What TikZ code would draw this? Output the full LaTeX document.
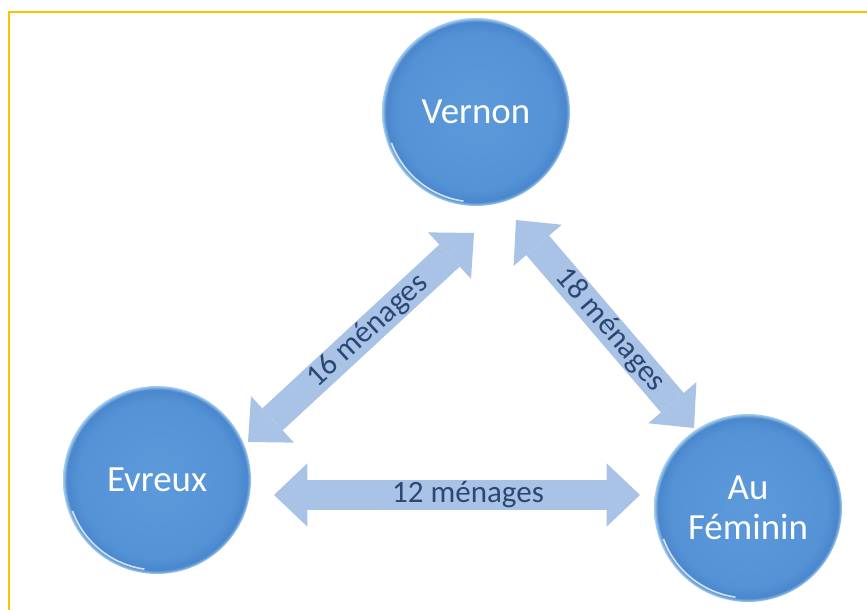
\documentclass[tikz,border=0pt]{standalone}
\usepackage{fontspec}
\setmainfont{Carlito}
\usetikzlibrary{arrows.meta}

\definecolor{townblue}{HTML}{5492D6}
\definecolor{townlight}{HTML}{5C9ADB}
\definecolor{townedge}{HTML}{4A86CC}
\definecolor{townrim}{HTML}{A6D0F2}
\definecolor{arrowblue}{HTML}{A9C3E6}
\definecolor{labelnavy}{HTML}{2B4874}
\definecolor{framegold}{HTML}{FFC000}

% glossy ball for the towns, 25bp = edge of the circle
\pgfdeclareradialshading{townball}{\pgfpoint{0bp}{0bp}}{color(0bp)=(townlight); color(21bp)=(townblue); color(24bp)=(townedge); color(25bp)=(townrim); color(50bp)=(townrim)}

\begin{document}
\begin{tikzpicture}[
    town/.style={circle, minimum size=5.64cm, inner sep=0pt, shading=townball, text=white,
                 align=center, font=\fontsize{31.5}{34}\selectfont,
                 path picture={\draw[white, opacity=.75, line width=1.4pt]
                   ([shift={(200:2.7)}]path picture bounding box.center) arc[start angle=200, end angle=262, radius=2.7];}},
    Fat/.tip={Triangle[width=1.9cm, length=1cm, line width=0pt, color=arrowblue, fill=arrowblue]},
    flow/.style={draw=arrowblue, line width=0.9cm, Fat-Fat},
    count/.style={sloped, pos=0.53, text=labelnavy, font=\fontsize{26.5}{30}\selectfont}
]
    \useasboundingbox (0,0) rectangle (26.01,18.27);
    \fill[white] (0,0) rectangle (26.01,18.27);
    \clip (0,0) rectangle (26.01,18.27);
    \draw[framegold, line width=2.5pt] (0.27,-1) -- (0.27,17.91) -- (27,17.91);

    \node[town] (vernon) at (14.28, 14.91) {Vernon};
    \node[town] (evreux) at (4.71, 3.87) {Evreux};
    \node[town] (feminin) at (22.44, 3.03) {Au\\Féminin};

    % arrow ends, a little off the circles
    \coordinate (e1) at (7.44, 5.01);
    \coordinate (v1) at (14.22, 11.28);
    \coordinate (v2) at (15.48, 11.67);
    \coordinate (f1) at (20.82, 5.43);
    \coordinate (e2) at (8.22, 3.42);
    \coordinate (f2) at (19.20, 3.42);

    \path (e1) edge[flow] node[count]{16 ménages} (v1)
          (v2) edge[flow] node[count]{18 ménages} (f1)
          (e2) edge[flow] node[count]{12 ménages} (f2)
          ;
\end{tikzpicture}
\end{document}
